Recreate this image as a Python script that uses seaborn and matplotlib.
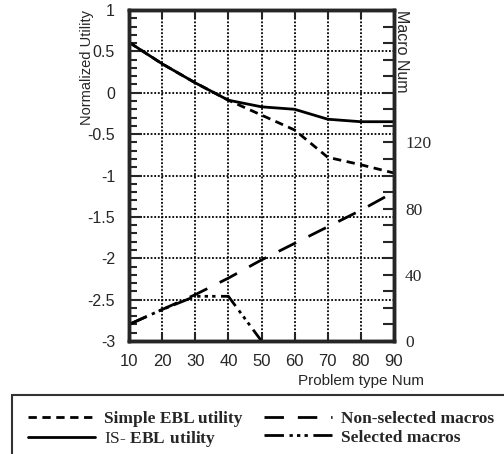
import numpy as np
import matplotlib
matplotlib.use("Agg")
import matplotlib.pyplot as plt
import seaborn as sns

sns.set_style("ticks")
plt.rcParams['font.family'] = ['Liberation Sans', 'DejaVu Sans']
plt.rcParams['mathtext.fontset'] = 'custom'
plt.rcParams['mathtext.rm'] = 'Liberation Serif'
plt.rcParams['mathtext.bf'] = 'Liberation Serif:bold'

# data
problem_num = [10, 20, 30, 40, 50, 60, 70, 80, 90]
simple_ebl = [0.61, 0.35, 0.12, -0.09, -0.27, -0.45, -0.78, -0.87, -0.97]
is_ebl = [0.61, 0.35, 0.12, -0.09, -0.17, -0.20, -0.32, -0.35, -0.35]
nonselected_macros = [10, 19, 28, 38, 49, 59, 69, 79, 90]
selected_num = [10, 20, 30, 40, 50]
selected_macros = [10, 19, 27, 27, 0]

fig = plt.figure(figsize=(5.04, 4.54), dpi=100)
ax = fig.add_axes([129/504, 1-341/454, 265/504, 331/454])
ax2 = ax.twinx()

sns.lineplot(x=problem_num, y=simple_ebl, ax=ax, color='black', lw=2,
             linestyle=(0, (3, 2)), label='Simple EBL utility', legend=False)
sns.lineplot(x=problem_num, y=is_ebl, ax=ax, color='black', lw=2,
             label='IS- EBL utility', legend=False)
sns.lineplot(x=problem_num, y=nonselected_macros, ax=ax2, color='black', lw=2,
             linestyle=(0, (7, 5)), label='Non-selected macros', legend=False)
sns.lineplot(x=selected_num, y=selected_macros, ax=ax2, color='black', lw=2,
             linestyle=(0, (7, 2, 1.2, 1.5, 1.2, 1.5, 1.2, 2)),
             label='Selected macros', legend=False)

ax.set_xlim(10, 90)
ax.set_ylim(-3, 1)
ax2.set_ylim(0, 200)

ax.set_xticks(range(10, 91, 10))
ax.set_yticks(np.arange(-3, 1.01, 0.5))
ax.set_yticklabels(['-3', '-2.5', '-2', '-1.5', '-1', '-0.5', '0', '0.5', '1'])
ax.set_yticks(np.arange(-3, 1.01, 0.1), minor=True)
ax.grid(True, which='major', color='black', linestyle=(0, (1, 1)), lw=1.3)

ax2.set_yticks(range(0, 201, 10))
ax2.set_yticklabels([str(v) if v in (0, 40, 80, 120) else '' for v in range(0, 201, 10)],
                    family='Liberation Serif')

ax.tick_params(axis='y', which='major', direction='in', length=9, width=1.5,
               labelsize=11.5, pad=10)
ax.tick_params(axis='y', which='minor', direction='in', length=6, width=1.5)
ax.tick_params(axis='x', which='major', direction='in', length=6, width=1.5,
               labelsize=12, pad=9, top=True)
ax2.tick_params(axis='y', direction='in', length=8, width=1.5, labelsize=12.5, pad=8)

for a in (ax, ax2):
    for s in a.spines.values():
        s.set_linewidth(2.5)
        s.set_visible(True)

ax.set_ylabel('Normalized Utility', fontsize=10.5)
ax.yaxis.set_label_coords(-0.16, 1.0)
ax.yaxis.label.set_verticalalignment('center')
ax.yaxis.label.set_horizontalalignment('right')

ax2.set_ylabel('Macro Num', fontsize=11.5, rotation=270)
ax2.yaxis.set_label_coords(1.03, 1.0)
ax2.yaxis.label.set_horizontalalignment('left')
ax2.yaxis.label.set_verticalalignment('center')

ax.set_xlabel('Problem type Num', fontsize=11)
ax.xaxis.set_label_coords(0.875, -0.10)

h1, l1 = ax.get_legend_handles_labels()
h2, l2 = ax2.get_legend_handles_labels()
leg = fig.legend(h1 + h2, l1 + l2, ncol=2, loc='upper left',
                 bbox_to_anchor=(12/504, 1-395/454), borderaxespad=0,
                 prop={'family': 'Liberation Serif', 'weight': 'bold', 'size': 12.5},
                 handlelength=3.9, handletextpad=0.5, borderpad=0.9,
                 columnspacing=1.25, labelspacing=0.15, frameon=True, fancybox=False)
leg.get_frame().set_edgecolor('black')
leg.get_frame().set_linewidth(1.5)
t = leg.get_texts()[1]
t.set_fontweight('normal')
t.set_text(r'IS- $\mathbf{EBL\ utility}$')

fig.savefig('out.png', dpi=100)
